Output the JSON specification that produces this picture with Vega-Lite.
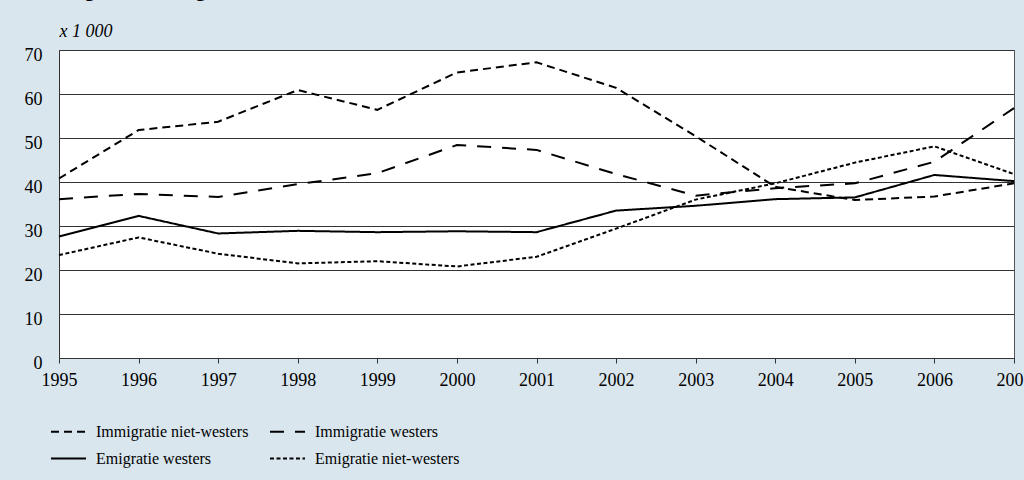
{
  "$schema": "https://vega.github.io/schema/vega-lite/v6.json",
  "autosize": {"type": "none"},
  "width": 955,
  "height": 308,
  "padding": {"left": 59, "top": 50, "right": 10, "bottom": 122},
  "background": "#d9e6ee",
  "title": {
    "text": "2.5  Immigratie en emigratie van allochtonen",
    "anchor": "start",
    "frame": "group",
    "font": "Liberation Serif",
    "fontSize": 20,
    "fontWeight": "bold",
    "color": "#000000",
    "baseline": "alphabetic",
    "offset": 0,
    "dx": -51,
    "dy": -6
  },
  "config": {
    "view": {"fill": "white", "stroke": "#555555", "strokeWidth": 1},
    "font": "Liberation Serif"
  },
  "data": {
    "values": [
      {"jaar": 1995, "reeks": "Immigratie niet-westers", "waarde": 40.8},
      {"jaar": 1996, "reeks": "Immigratie niet-westers", "waarde": 51.8},
      {"jaar": 1997, "reeks": "Immigratie niet-westers", "waarde": 53.7},
      {"jaar": 1998, "reeks": "Immigratie niet-westers", "waarde": 60.9},
      {"jaar": 1999, "reeks": "Immigratie niet-westers", "waarde": 56.4},
      {"jaar": 2000, "reeks": "Immigratie niet-westers", "waarde": 64.9},
      {"jaar": 2001, "reeks": "Immigratie niet-westers", "waarde": 67.2},
      {"jaar": 2002, "reeks": "Immigratie niet-westers", "waarde": 61.4},
      {"jaar": 2003, "reeks": "Immigratie niet-westers", "waarde": 50.4},
      {"jaar": 2004, "reeks": "Immigratie niet-westers", "waarde": 38.9},
      {"jaar": 2005, "reeks": "Immigratie niet-westers", "waarde": 35.9},
      {"jaar": 2006, "reeks": "Immigratie niet-westers", "waarde": 36.7},
      {"jaar": 2007, "reeks": "Immigratie niet-westers", "waarde": 39.7},
      {"jaar": 1995, "reeks": "Immigratie westers", "waarde": 36.1},
      {"jaar": 1996, "reeks": "Immigratie westers", "waarde": 37.3},
      {"jaar": 1997, "reeks": "Immigratie westers", "waarde": 36.6},
      {"jaar": 1998, "reeks": "Immigratie westers", "waarde": 39.5},
      {"jaar": 1999, "reeks": "Immigratie westers", "waarde": 42.0},
      {"jaar": 2000, "reeks": "Immigratie westers", "waarde": 48.4},
      {"jaar": 2001, "reeks": "Immigratie westers", "waarde": 47.3},
      {"jaar": 2002, "reeks": "Immigratie westers", "waarde": 41.8},
      {"jaar": 2003, "reeks": "Immigratie westers", "waarde": 36.9},
      {"jaar": 2004, "reeks": "Immigratie westers", "waarde": 38.6},
      {"jaar": 2005, "reeks": "Immigratie westers", "waarde": 39.7},
      {"jaar": 2006, "reeks": "Immigratie westers", "waarde": 44.6},
      {"jaar": 2007, "reeks": "Immigratie westers", "waarde": 56.8},
      {"jaar": 1995, "reeks": "Emigratie westers", "waarde": 27.6},
      {"jaar": 1996, "reeks": "Emigratie westers", "waarde": 32.3},
      {"jaar": 1997, "reeks": "Emigratie westers", "waarde": 28.3},
      {"jaar": 1998, "reeks": "Emigratie westers", "waarde": 28.9},
      {"jaar": 1999, "reeks": "Emigratie westers", "waarde": 28.6},
      {"jaar": 2000, "reeks": "Emigratie westers", "waarde": 28.8},
      {"jaar": 2001, "reeks": "Emigratie westers", "waarde": 28.6},
      {"jaar": 2002, "reeks": "Emigratie westers", "waarde": 33.5},
      {"jaar": 2003, "reeks": "Emigratie westers", "waarde": 34.6},
      {"jaar": 2004, "reeks": "Emigratie westers", "waarde": 36.1},
      {"jaar": 2005, "reeks": "Emigratie westers", "waarde": 36.5},
      {"jaar": 2006, "reeks": "Emigratie westers", "waarde": 41.6},
      {"jaar": 2007, "reeks": "Emigratie westers", "waarde": 40.2},
      {"jaar": 1995, "reeks": "Emigratie niet-westers", "waarde": 23.4},
      {"jaar": 1996, "reeks": "Emigratie niet-westers", "waarde": 27.4},
      {"jaar": 1997, "reeks": "Emigratie niet-westers", "waarde": 23.7},
      {"jaar": 1998, "reeks": "Emigratie niet-westers", "waarde": 21.5},
      {"jaar": 1999, "reeks": "Emigratie niet-westers", "waarde": 22.0},
      {"jaar": 2000, "reeks": "Emigratie niet-westers", "waarde": 20.8},
      {"jaar": 2001, "reeks": "Emigratie niet-westers", "waarde": 23.0},
      {"jaar": 2002, "reeks": "Emigratie niet-westers", "waarde": 29.4},
      {"jaar": 2003, "reeks": "Emigratie niet-westers", "waarde": 36.0},
      {"jaar": 2004, "reeks": "Emigratie niet-westers", "waarde": 39.7},
      {"jaar": 2005, "reeks": "Emigratie niet-westers", "waarde": 44.4},
      {"jaar": 2006, "reeks": "Emigratie niet-westers", "waarde": 48.1},
      {"jaar": 2007, "reeks": "Emigratie niet-westers", "waarde": 41.8}
    ]
  },
  "mark": {"type": "line", "color": "#000000", "strokeWidth": 2, "clip": false},
  "encoding": {
    "x": {
      "field": "jaar",
      "type": "quantitative",
      "scale": {"domain": [1995, 2007], "nice": false, "zero": false},
      "axis": {
        "title": null,
        "values": [1995, 1996, 1997, 1998, 1999, 2000, 2001, 2002, 2003, 2004, 2005, 2006, 2007],
        "format": "d",
        "grid": false,
        "domainColor": "#333333",
        "domainWidth": 1,
        "tickColor": "#333333",
        "tickSize": 5,
        "labelFont": "Liberation Serif",
        "labelFontSize": 18,
        "labelColor": "#000000",
        "labelPadding": 8,
        "labelFlush": false,
        "labelOverlap": false
      }
    },
    "y": {
      "field": "waarde",
      "type": "quantitative",
      "scale": {"domain": [0, 70], "nice": false},
      "axis": {
        "title": "x 1 000",
        "titleAngle": 0,
        "titleAlign": "left",
        "titleBaseline": "alphabetic",
        "titleX": 0,
        "titleY": -14,
        "titleFont": "Liberation Serif",
        "titleFontSize": 18,
        "titleFontStyle": "italic",
        "titleFontWeight": "normal",
        "titleColor": "#000000",
        "values": [0, 10, 20, 30, 40, 50, 60, 70],
        "grid": true,
        "gridColor": "#333333",
        "gridWidth": 1,
        "gridOpacity": 1,
        "ticks": false,
        "domainColor": "#333333",
        "labelFont": "Liberation Serif",
        "labelFontSize": 18,
        "labelColor": "#000000",
        "labelPadding": 17,
        "labelOffset": 5
      }
    },
    "strokeDash": {
      "field": "reeks",
      "type": "nominal",
      "scale": {
        "domain": ["Immigratie niet-westers", "Immigratie westers", "Emigratie westers", "Emigratie niet-westers"],
        "range": [[8, 5], [14, 11], [1, 0], [4, 2.5]]
      },
      "legend": {
        "title": null,
        "orient": "none",
        "legendX": -9,
        "legendY": 363,
        "direction": "horizontal",
        "columns": 2,
        "columnPadding": 17,
        "rowPadding": -1,
        "symbolType": "stroke",
        "symbolSize": 1225,
        "symbolStrokeWidth": 2,
        "symbolStrokeColor": "#000000",
        "labelFont": "Liberation Serif",
        "labelFontSize": 16,
        "labelColor": "#000000",
        "labelOffset": 9,
        "labelLimit": 400
      }
    }
  }
}
